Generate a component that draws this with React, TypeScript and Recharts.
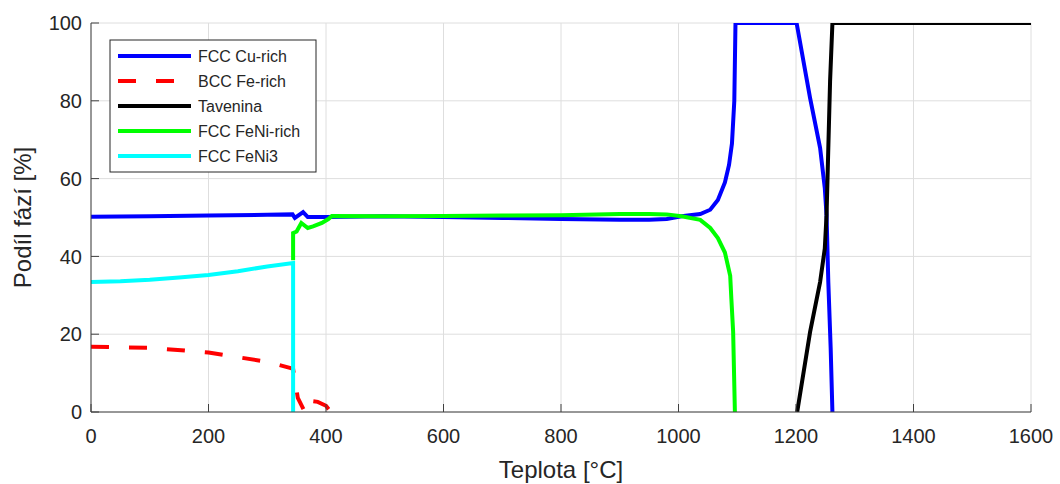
import React from 'react';
import { LineChart, Line, XAxis, YAxis, CartesianGrid, Label, Customized } from 'recharts';

const xTicks = [0, 200, 400, 600, 800, 1000, 1200, 1400, 1600];
const yTicks = [0, 20, 40, 60, 80, 100];

const cuT = [0, 100, 200, 300, 343, 347, 361, 369, 400, 500, 600, 700, 800, 900, 950, 980, 1005, 1037, 1054, 1067, 1079, 1086, 1091, 1095, 1097, 1201, 1224, 1241, 1249, 1252, 1255, 1259, 1262];
const cuV = [50.2, 50.3, 50.5, 50.7, 50.8, 49.9, 51.4, 50.1, 50.1, 50.3, 50.1, 49.9, 49.6, 49.4, 49.4, 49.6, 50.3, 50.9, 52.0, 54.5, 59.0, 63.5, 69.0, 80.0, 100, 100, 80.7, 67.9, 57.6, 50.6, 33.4, 16.5, 0];

const feT = [0, 100, 200, 300, 340, 344, 352, 364, 370, 386, 400, 408];
const feV = [16.8, 16.5, 15.3, 12.9, 11.3, 11.1, 3.6, 0, 2.9, 2.6, 1.6, 0];

const liqT = [1202, 1224, 1241, 1249, 1252, 1255, 1258, 1262, 1600];
const liqV = [0, 20.6, 33.4, 42.0, 50.6, 67.9, 85.0, 100, 100];

const feniT = [344, 344, 350, 358, 369, 378, 393, 404, 410, 500, 600, 700, 800, 900, 950, 980, 1005, 1037, 1054, 1067, 1079, 1088, 1090, 1093, 1096];
const feniV = [39.0, 46.0, 46.4, 48.6, 47.3, 47.7, 48.6, 49.6, 50.4, 50.3, 50.4, 50.5, 50.6, 50.9, 50.9, 50.8, 50.3, 49.4, 47.3, 44.7, 41.0, 35.0, 29.0, 20.6, 0];

const feni3T = [0, 50, 100, 150, 200, 250, 300, 344, 344];
const feni3V = [33.4, 33.6, 34.0, 34.6, 35.2, 36.2, 37.4, 38.3, 0];

const seriesNames = ['FCC Cu-rich', 'BCC Fe-rich', 'Tavenina', 'FCC FeNi-rich', 'FCC FeNi3'];
const seriesColors = ['#0000ff', '#ff0000', '#000000', '#00ff00', '#00ffff'];
const seriesDash = ['', '18 20', '', '', ''];

const zip = (t: number[], v: number[]) => t.map((x, i) => ({ t: x, v: v[i] }));
const seriesData = [zip(cuT, cuV), zip(feT, feV), zip(liqT, liqV), zip(feniT, feniV), zip(feni3T, feni3V)];

const FONT = '"Liberation Sans", Arial, Helvetica, sans-serif';
const TXT = '#262626';
const LW = 4;

const LegendBox = () => {
  const x0 = 110;
  const y0 = 40;
  const w = 206;
  const h = 132;
  return (
    <g>
      <rect x={x0} y={y0} width={w} height={h} fill="#ffffff" stroke="#262626" strokeWidth={1} />
      {seriesNames.map((name, i) => {
        const cy = y0 + 16 + i * 25;
        return (
          <g key={name}>
            <line x1={x0 + 8} x2={x0 + 81} y1={cy} y2={cy} stroke={seriesColors[i]} strokeWidth={LW} strokeDasharray={seriesDash[i] || undefined} />
            <text x={x0 + 88} y={cy + 6} fontSize={16} fontFamily={FONT} fill={TXT}>{name}</text>
          </g>
        );
      })}
    </g>
  );
};

const YLab = (props: any) => {
  const vb = props.viewBox || { x: 0, y: 23, width: 91, height: 389 };
  const cx = vb.x + 31;
  const cy = vb.y + vb.height / 2;
  return (
    <text x={cx} y={cy} transform={`rotate(-90 ${cx} ${cy})`} textAnchor="middle" fontSize={24} fontFamily={FONT} fill={TXT}>
      Podíl fází [%]
    </text>
  );
};

const XLab = (props: any) => {
  const vb = props.viewBox || { x: 91, y: 412, width: 940, height: 72 };
  const cx = vb.x + vb.width / 2;
  return (
    <text x={cx} y={vb.y + 66} textAnchor="middle" fontSize={24} fontFamily={FONT} fill={TXT}>
      Teplota [°C]
    </text>
  );
};

export default function App() {
  return (
    <div style={{ position: 'absolute', left: 0, top: 0, width: 1060, height: 484, background: '#fff' }}>
      <LineChart width={1060} height={484} margin={{ top: 23, right: 29, left: 0, bottom: 0 }}>
        <CartesianGrid stroke="#dedede" strokeWidth={1} />
        <XAxis
          type="number"
          dataKey="t"
          domain={[0, 1600]}
          ticks={xTicks}
          allowDataOverflow
          height={72}
          tickSize={-8}
          tickMargin={25}
          stroke="#404040"
          tick={{ fill: TXT, fontSize: 20, fontFamily: FONT }}
        >
          <Label content={XLab} />
        </XAxis>
        <YAxis
          type="number"
          domain={[0, 100]}
          ticks={yTicks}
          allowDataOverflow
          width={91}
          tickSize={-8}
          tickMargin={17}
          stroke="#404040"
          tick={{ fill: TXT, fontSize: 20, fontFamily: FONT }}
        >
          <Label content={YLab} />
        </YAxis>
        {seriesData.map((d, i) => (
          <Line
            key={seriesNames[i]}
            data={d}
            dataKey="v"
            name={seriesNames[i]}
            type="linear"
            stroke={seriesColors[i]}
            strokeWidth={LW}
            strokeDasharray={seriesDash[i] || undefined}
            dot={false}
            activeDot={false}
            isAnimationActive={false}
          />
        ))}
        <Customized component={LegendBox} />
      </LineChart>
    </div>
  );
}
